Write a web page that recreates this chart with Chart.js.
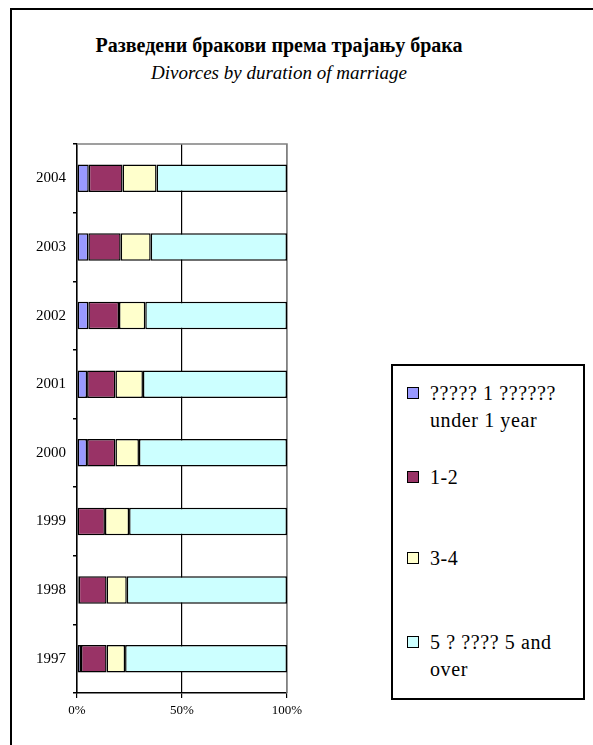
<!DOCTYPE html>
<html lang="sr">
<head>
    <meta charset="UTF-8">
    <title>Divorces by duration of marriage</title>
    <script src="https://cdn.jsdelivr.net/npm/chart.js"></script>
    <style>
        html, body {
            margin: 0;
            padding: 0;
            background: #ffffff;
            overflow: hidden;
        }

        body {
            width: 593px;
            height: 745px;
            position: relative;
            font-family: "Liberation Serif", "DejaVu Serif", serif;
            color: #000000;
        }

        .frame {
            position: absolute;
            left: 10px;
            top: 8px;
            width: 700px;
            height: 900px;
            border: 2px solid #000000;
        }

        .title {
            position: absolute;
            left: 10px;
            width: 538px;
            text-align: center;
            line-height: 28px;
            font-family: "Liberation Serif", serif;
        }

        #chartBox {
            position: absolute;
            left: 0;
            top: 0;
            width: 593px;
            height: 745px;
        }

        .legend {
            position: absolute;
            left: 391px;
            top: 364px;
            width: 190px;
            height: 332px;
            border: 2px solid #000000;
            background: #ffffff;
            font-family: "Liberation Serif", serif;
        }

        .legend-item {
            position: absolute;
            left: 14px;
            font-family: "Liberation Serif", serif;
            font-size: 20px;
            line-height: 27px;
            letter-spacing: 0.6px;
            white-space: nowrap;
        }

        .legend-item .swatch {
            position: absolute;
            left: 0;
            top: 7px;
            width: 10px;
            height: 10px;
            border: 1.5px solid #000000;
        }

        .legend-item .text {
            margin-left: 23px;
        }
    </style>
</head>
<body>
    <div class="frame"></div>
    <div class="title" style="top: 31px; font-size: 20px; font-weight: bold;">Разведени бракови према трајању брака</div>
    <div class="title" style="top: 59px; font-size: 19px; font-style: italic;">Divorces by duration of marriage</div>

    <div id="chartBox"><canvas id="divorceChart" width="593" height="745"></canvas></div>

    <div class="legend" id="legend"></div>

    <script>
        // years, bottom to top in the picture
        const years = ['1997', '1998', '1999', '2000', '2001', '2002', '2003', '2004'];

        // share of divorces (%) by duration of marriage
        const underOneYear = [1.9, 0.8, 0.3, 4.8, 4.8, 5.4, 5.4, 5.6];
        const oneToTwo     = [12.2, 13.3, 13.0, 13.5, 13.5, 14.6, 15.4, 16.1];
        const threeToFour  = [8.8, 9.6, 11.5, 11.2, 13.1, 12.5, 14.3, 16.2];
        const fiveAndOver  = [77.1, 76.3, 75.2, 70.5, 68.6, 67.5, 64.9, 62.1];

        const seriesNames = ['????? 1 ?????? under 1 year', '1-2', '3-4', '5 ? ???? 5 and over'];
        const legendLines = [['????? 1 ??????', 'under 1 year'], ['1-2'], ['3-4'], ['5 ? ???? 5 and', 'over']];
        const seriesColors = ['#9999FF', '#993366', '#FFFFCC', '#CCFFFF'];
        const xTicks = [0, 50, 100];

        const seriesData = [underOneYear, oneToTwo, threeToFour, fiveAndOver];

        // gray top/right border of the plot area, like the spreadsheet chart
        const plotBorder = {
            id: 'plotBorder',
            beforeDatasetsDraw(chart) {
                const a = chart.chartArea;
                const ctx = chart.ctx;
                ctx.save();
                ctx.strokeStyle = '#808080';
                ctx.lineWidth = 1.5;
                ctx.beginPath();
                ctx.moveTo(a.left, a.top);
                ctx.lineTo(a.right, a.top);
                ctx.lineTo(a.right, a.bottom);
                ctx.stroke();
                ctx.restore();
            }
        };

        const ctx = document.getElementById('divorceChart').getContext('2d');
        const chart = new Chart(ctx, {
            type: 'bar',
            data: {
                labels: years,
                datasets: seriesData.map((d, i) => ({
                    label: seriesNames[i],
                    data: d,
                    backgroundColor: seriesColors[i],
                    borderColor: '#000000',
                    borderWidth: 1.5,
                    borderSkipped: false,
                    categoryPercentage: 1,
                    barPercentage: 0.4
                }))
            },
            options: {
                indexAxis: 'y',
                responsive: false,
                animation: false,
                layout: {
                    padding: { top: 144, right: 306, bottom: 0, left: 0 }
                },
                scales: {
                    x: {
                        stacked: true,
                        min: 0,
                        max: 100,
                        afterBuildTicks: (scale) => {
                            scale.ticks = xTicks.map(v => ({ value: v }));
                        },
                        afterFit: (scale) => { scale.height = 52; },
                        grid: {
                            color: (c) => (c.tick && c.tick.value === 100 ? '#808080' : '#000000'),
                            lineWidth: 1.2,
                            tickLength: 5,
                            tickColor: '#000000'
                        },
                        border: { color: '#000000', width: 1.5 },
                        ticks: {
                            color: '#000000',
                            padding: 5,
                            font: { family: 'Liberation Serif', size: 13 },
                            callback: (v) => v + '%'
                        }
                    },
                    y: {
                        stacked: true,
                        reverse: true,
                        afterFit: (scale) => { scale.width = 77; },
                        grid: {
                            offset: true,
                            drawOnChartArea: false,
                            tickLength: 4,
                            tickColor: '#000000',
                            lineWidth: 1.5
                        },
                        border: { color: '#000000', width: 1.5 },
                        ticks: {
                            color: '#000000',
                            padding: 7,
                            font: { family: 'Liberation Serif', size: 15 }
                        }
                    }
                },
                plugins: {
                    legend: { display: false },
                    tooltip: { enabled: false }
                }
            },
            plugins: [plotBorder]
        });

        // legend on the right, built from the same series
        const legendBox = document.getElementById('legend');
        const itemTops = [14, 98, 179, 263];
        legendLines.forEach((lines, i) => {
            const item = document.createElement('div');
            item.className = 'legend-item';
            item.style.top = itemTops[i] + 'px';
            const sw = document.createElement('div');
            sw.className = 'swatch';
            sw.style.background = seriesColors[i];
            const txt = document.createElement('div');
            txt.className = 'text';
            txt.innerHTML = lines.join('<br>');
            item.appendChild(sw);
            item.appendChild(txt);
            legendBox.appendChild(item);
        });
    </script>
</body>
</html>
